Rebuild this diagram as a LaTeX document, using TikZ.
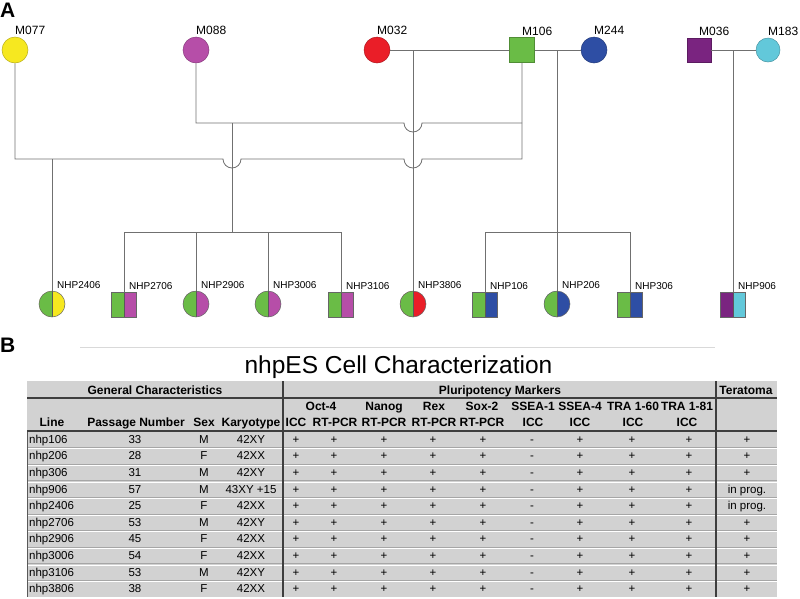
\documentclass[tikz,border=0pt]{standalone}
\usepackage{fontspec}
\setmainfont{Liberation Sans}
\definecolor{cyel}{RGB}{246,232,32}
\definecolor{cmag}{RGB}{182,78,168}
\definecolor{cred}{RGB}{234,30,40}
\definecolor{cgrn}{RGB}{106,188,70}
\definecolor{cblu}{RGB}{46,78,164}
\definecolor{cpur}{RGB}{122,36,128}
\definecolor{ccya}{RGB}{98,200,218}
\definecolor{tgray}{RGB}{210,210,210}
\definecolor{lgray}{RGB}{112,112,112}
\definecolor{dgray}{RGB}{62,62,62}
\begin{document}
\begin{tikzpicture}[x=1pt,y=-1pt,
  pline/.style={draw=lgray, line width=0.8pt},
  pcirc/.style={circle, minimum size=26pt, inner sep=0pt, draw=#1!75!black, fill=#1, line width=0.5pt},
  psq/.style={rectangle, minimum size=25pt, inner sep=0pt, draw=#1!75!black, fill=#1, line width=0.5pt},
  halves/.style 2 args={fill=#2, path picture={\fill[#1] (path picture bounding box.south west) rectangle (path picture bounding box.north);
      \draw[black!65, line width=0.5pt] (path picture bounding box.south) -- (path picture bounding box.north);}},
  ccirc/.style={circle, minimum size=26pt, inner sep=0pt, draw=black!60, line width=0.5pt},
  csq/.style={rectangle, minimum size=25pt, inner sep=0pt, draw=black!60, line width=0.5pt},
  plab/.style={anchor=base west, inner sep=0pt, font=\fontsize{12}{14}\selectfont},
  clab/.style={anchor=base west, inner sep=0pt, font=\fontsize{10}{12}\selectfont},
  panel/.style={anchor=base west, inner sep=0pt, font=\bfseries\fontsize{21}{24}\selectfont},
  hb/.style={anchor=base, inner sep=0pt, font=\bfseries\fontsize{12}{14}\selectfont},
  dat/.style={anchor=base, inner sep=0pt, font=\fontsize{11.5}{13}\selectfont},
  darkrule/.style={draw=dgray, line width=1.2pt},
  rowrule/.style={draw=gray!70, line width=0.7pt},
]
\useasboundingbox (0,0) rectangle (800,598);

% panel letters
\node[panel] (pA) at (0,17) {A};
\node[panel] (pB) at (0,352) {B};

% parents
\node[pcirc=cyel] (m077) at (15,50) {};
\node[pcirc=cmag] (m088) at (196,50) {};
\node[pcirc=cred] (m032) at (377,50) {};
\node[psq=cgrn]   (m106) at (522,50) {};
\node[pcirc=cblu] (m244) at (594,50) {};
\node[psq=cpur, minimum size=24pt] (m036) at (699,50) {};
\node[pcirc=ccya, minimum size=24pt] (m183) at (768,50) {};

\node[plab] (lm077) at ([yshift=2pt]m077.north) {M077};
\node[plab] (lm088) at ([yshift=2pt]m088.north) {M088};
\node[plab] (lm032) at ([yshift=2pt]m032.north) {M032};
\node[plab] (lm106) at ([yshift=2pt]m106.north) {M106};
\node[plab] (lm244) at ([yshift=2pt]m244.north) {M244};
\node[plab] (lm036) at ([yshift=2pt]m036.north) {M036};
\node[plab] (lm183) at ([yshift=2pt]m183.north) {M183};

% children
\node[ccirc, halves={cgrn}{cyel}] (c2406) at (52,304) {};
\node[csq,   halves={cgrn}{cmag}] (c2706) at (124,304.5) {};
\node[ccirc, halves={cgrn}{cmag}] (c2906) at (196,304) {};
\node[ccirc, halves={cgrn}{cmag}] (c3006) at (268,304) {};
\node[csq,   halves={cgrn}{cmag}] (c3106) at (341,304.5) {};
\node[ccirc, halves={cgrn}{cred}] (c3806) at (413,304) {};
\node[csq,   halves={cgrn}{cblu}] (c106) at (485,304.5) {};
\node[ccirc, halves={cgrn}{cblu}] (c206) at (557,304) {};
\node[csq,   halves={cgrn}{cblu}] (c306) at (630,304.5) {};
\node[csq,   halves={cpur}{ccya}] (c906) at (733,305) {};

\foreach \n/\t in {c2406/NHP2406, c2706/NHP2706, c2906/NHP2906, c3006/NHP3006, c3106/NHP3106,
                   c3806/NHP3806, c106/NHP106, c206/NHP206, c306/NHP306, c906/NHP906}
  \node[clab] (l\n) at ([xshift=5pt,yshift=2.5pt]\n.north) {\t};

% mating lines
\draw[pline] (m032) -- (m106);
\draw[pline] (m106) -- (m244);
\draw[pline] (m036) -- (m183);

\coordinate (d1) at (413,50);
\coordinate (d2) at (557,50);
\coordinate (d3) at (733,50);
\coordinate (bar1) at (232,232);
\coordinate (bar2) at (557,232);
\coordinate (j1) at (52,159);
\coordinate (j2) at (232,123);

% M077 x M106
\draw[pline] (m077.south) -- (15,159) -- (223,159) arc[start angle=180, end angle=360, radius=9pt]
  -- (404,159) arc[start angle=180, end angle=360, radius=9pt] -- (522,159) -- (m106.south);
\draw[pline] (j1) -- (c2406.north);
% M088 x M106
\draw[pline] (m088.south) -- (196,123) -- (404,123) arc[start angle=180, end angle=360, radius=9pt] -- (522,123);
\draw[pline] (j2) -- (bar1);
\draw[pline] (c2706.north) -- (c2706.north |- bar1) -- (c3106.north |- bar1) -- (c3106.north);
\draw[pline] (c2906.north |- bar1) -- (c2906.north);
\draw[pline] (c3006.north |- bar1) -- (c3006.north);
% M032 x M106
\draw[pline] (d1) -- (c3806.north);
% M106 x M244
\draw[pline] (d2) -- (c206.north);
\draw[pline] (c106.north) -- (c106.north |- bar2) -- (c306.north |- bar2) -- (c306.north);
% M036 x M183
\draw[pline] (d3) -- (c906.north);

% ---------- table ----------
\draw[draw=gray!30, line width=1pt] (80,347) -- (715,347);
\node[anchor=base, inner sep=0pt, font=\fontsize{24.5}{28}\selectfont] (title) at (398.5,373) {nhpES Cell Characterization};

\fill[tgray] (27,381) rectangle (777,597);
\foreach \i in {1,...,9} {
  \draw[rowrule] (27,431+16.6*\i) -- (777,431+16.6*\i);
  \draw[white, line width=0.8pt] (27,432.2+16.6*\i) -- (777,432.2+16.6*\i);
}
\draw[draw=gray!70!black, line width=0.8pt] (27,431) -- (27,597);
\draw[darkrule] (27,398) -- (777,398);
\draw[darkrule] (27,431) -- (777,431);
\draw[darkrule] (283,381) -- (283,597);
\draw[darkrule] (716,381) -- (716,597);

\node[hb] (hGC) at (155,394) {General Characteristics};
\node[hb] (hPM) at (500,394) {Pluripotency Markers};
\node[hb] (hTe) at (746,394) {Teratoma};

\node[hb] (hOct) at (321,410) {Oct-4};
\node[hb] (hNan) at (384,410) {Nanog};
\node[hb] (hRex) at (434,410) {Rex};
\node[hb] (hSox) at (482,410) {Sox-2};
\node[hb] (hS1) at (533,410) {SSEA-1};
\node[hb] (hS4) at (580,410) {SSEA-4};
\node[hb] (hT60) at (633,410) {TRA 1-60};
\node[hb] (hT81) at (687,410) {TRA 1-81};

\node[hb] (hLine) at (52,426.5) {Line};
\node[hb] (hPass) at (136,426.5) {Passage Number};
\node[hb] (hSex) at (204,426.5) {Sex};
\node[hb] (hKar) at (251,426.5) {Karyotype};
\node[hb] (hI1) at (296,426.5) {ICC};
\node[hb] (hR1) at (335,426.5) {RT-PCR};
\node[hb] (hR2) at (384,426.5) {RT-PCR};
\node[hb] (hR3) at (434,426.5) {RT-PCR};
\node[hb] (hR4) at (482,426.5) {RT-PCR};
\node[hb] (hI2) at (533,426.5) {ICC};
\node[hb] (hI3) at (580,426.5) {ICC};
\node[hb] (hI4) at (633,426.5) {ICC};
\node[hb] (hI5) at (687,426.5) {ICC};

\foreach \ln/\pn/\sx/\ky/\te [count=\i from 0] in {
  nhp106/33/M/42XY/+, nhp206/28/F/42XX/+, nhp306/31/M/42XY/+, nhp906/57/M/43XY +15/in prog.,
  nhp2406/25/F/42XX/in prog., nhp2706/53/M/42XY/+, nhp2906/45/F/42XX/+, nhp3006/54/F/42XX/+,
  nhp3106/53/M/42XY/+, nhp3806/38/F/42XX/+} {
  \pgfmathsetmacro\yy{431+16.6*(\i+0.5)+4}
  \node[dat, anchor=base west] (rl\i) at (29,\yy) {\ln};
  \node[dat] (rp\i) at (135,\yy) {\pn};
  \node[dat] (rs\i) at (204,\yy) {\sx};
  \node[dat] (rk\i) at (251,\yy) {\ky};
  \foreach \xx [count=\k] in {296,334,384,433,483,580,632,689}
    \node[dat] (rm\i-\k) at (\xx,\yy) {+};
  \node[dat] (rn\i) at (532,\yy) {-};
  \node[dat] (rt\i) at (747,\yy) {\te};
}
\end{tikzpicture}
\end{document}
